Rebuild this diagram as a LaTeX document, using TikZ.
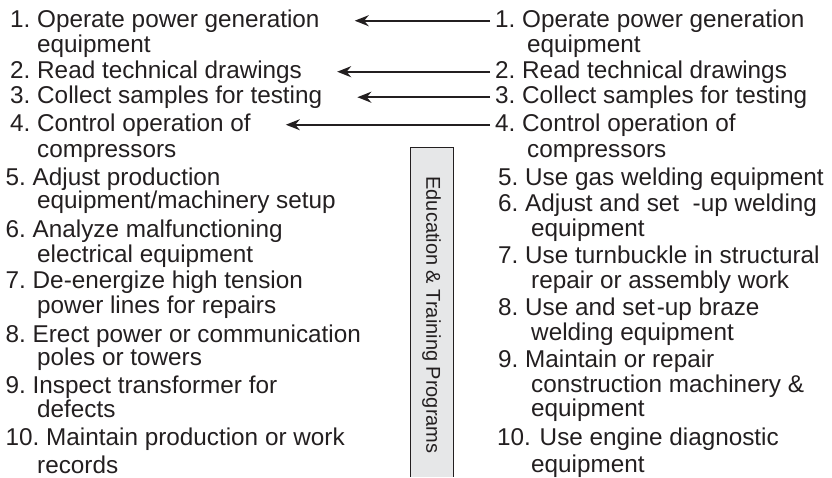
\documentclass[tikz,border=0pt]{standalone}
\usepackage{fontspec}
\setmainfont{Liberation Sans}
\usetikzlibrary{arrows.meta}
\definecolor{ink}{HTML}{231F20}
\definecolor{panel}{HTML}{E6E7E8}
\frenchspacing
\tikzset{itm/.style={anchor=base west,inner sep=0pt,text=ink,font=\fontsize{24.3}{26}\selectfont},
  arr/.style={ink,line width=1.7pt,-{Stealth[length=14pt,width=11pt]},shorten <=5pt,shorten >=35pt}}

\begin{document}
\begin{tikzpicture}[x=1pt,y=-1pt]
  \useasboundingbox (0,0) rectangle (832,477);
  % training box in the middle
  \fill[panel] (410,147) rectangle (453,477);
  \draw[ink,line width=.8pt] (410,477)--(410,147)--(453,147)--(453,477);
  \node[rotate=-90,inner sep=0pt,text=ink,font=\fontsize{20}{22}\selectfont] (prog) at (431.5,315){Education \& Training Programs};
  % left column
  \node[itm] (L1) at (10,27){1. Operate power generation};\node[itm] (L1b) at (37,52){equipment};
  \node[itm] (L2) at (10,78){2. Read technical drawings};
  \node[itm] (L3) at (10,103.5){3. Collect samples for testing};
  \node[itm] (L4) at (10,131){4. Control operation of};\node[itm] (L4b) at (37,157){compressors};
  \node[itm] (L5) at (5.5,185){5. Adjust production};\node[itm] (L5b) at (37,208){equipment/machinery setup};
  \node[itm] (L6) at (5.5,237){6. Analyze malfunctioning};\node[itm] (L6b) at (37,262){electrical equipment};
  \node[itm] (L7) at (5.5,288){7. De-energize high tension};\node[itm] (L7b) at (37,313){power lines for repairs};
  \node[itm] (L8) at (5.5,342){8. Erect power or communication};\node[itm] (L8b) at (37,365){poles or towers};
  \node[itm] (L9) at (5.5,393){9. Inspect transformer for};\node[itm] (L9b) at (37,417){defects};
  \node[itm] (L10) at (5.5,445){10. Maintain production or work};\node[itm] (L10b) at (37,473){records};
  % right column
  \node[itm] (R1) at (495,27){1. Operate power generation};\node[itm] (R1b) at (527,52){equipment};
  \node[itm] (R2) at (495,78){2. Read technical drawings};
  \node[itm] (R3) at (495,103.5){3. Collect samples for testing};
  \node[itm] (R4) at (495,131){4. Control operation of};\node[itm] (R4b) at (527,157){compressors};
  \node[itm] (R5) at (498,185){5. Use gas welding equipment};
  \node[itm] (R6) at (498,211){6. Adjust and set~ -up welding};\node[itm] (R6b) at (531,236){equipment};
  \node[itm] (R7) at (498,263){7. Use turnbuckle in structural};\node[itm] (R7b) at (531,288){repair or assembly work};
  \node[itm] (R8) at (498,315){8. Use and set\hspace{2pt}-up braze};\node[itm] (R8b) at (531,340){welding equipment};
  \node[itm] (R9) at (498,367){9. Maintain or repair};\node[itm] (R9b) at (531,392){construction machinery \&};\node[itm] (R9c) at (531,416){equipment};
  \node[itm] (R10) at (497,445){10.\hspace{2pt} Use engine diagnostic};\node[itm] (R10b) at (531,472){equipment};
  % shared items
  \foreach \i in {1,...,4} \draw[arr] (R\i) -- (L\i);
\end{tikzpicture}
\end{document}
